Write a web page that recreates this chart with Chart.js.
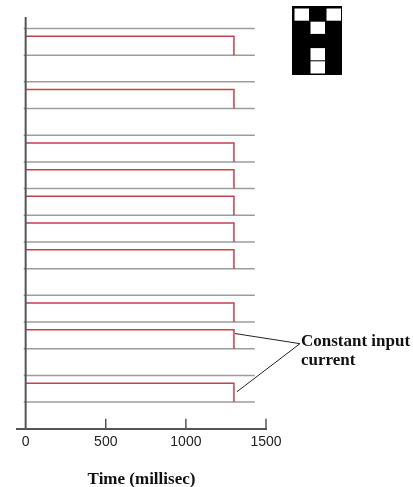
<!DOCTYPE html>
<html>
<head>
<meta charset="utf-8">
<script src="https://cdn.jsdelivr.net/npm/chart.js@4/dist/chart.umd.min.js"></script>
<style>
html,body{margin:0;padding:0;background:#fff;}
#wrap{position:relative;width:413px;height:487px;}
</style>
</head>
<body>
<div id="wrap"><canvas id="c" width="413" height="487"></canvas></div>
<script>
// ---- data ----
const timeTicks = [0, 500, 1000, 1500];
const inputPattern = [0, 1, 0, 1, 0, 1, 1, 1, 1, 1, 0, 1, 1, 0, 1]; // 15 neurons (3x5 image), 1 = input current
const pulseStart = 0;
const pulseEnd = 1300;
const traceStart = -12;
const traceEnd = 1430;
const pulseAmp = 0.71;
const annotationText = ["Constant input", "current"];
const annotationTargets = [ // [neuron index (1-based), time, offset above baseline]
  [13, 1306, 0.57],
  [15, 1319, 0.39]
];
const annotationAnchor = [1712, 3.19];
const xLabel = "Time (millisec)";

const nTraces = inputPattern.length;
const baseOf = k => nTraces + 1 - k; // k = 1..15

const datasets = [];
for (let k = 1; k <= nTraces; k++) {
  const b = baseOf(k);
  datasets.push({
    data: [{x: traceStart, y: b}, {x: traceEnd, y: b}],
    borderColor: '#9c9c9c', borderWidth: 1.5, order: 2
  });
}
inputPattern.forEach((on, i) => {
  if (!on) return;
  const b = baseOf(i + 1);
  datasets.push({
    data: [{x: pulseStart, y: b + pulseAmp}, {x: pulseEnd, y: b + pulseAmp}, {x: pulseEnd, y: b}],
    borderColor: '#c5404c', borderWidth: 1.5, order: 1
  });
});

const extras = {
  id: 'extras',
  afterDatasetsDraw(chart) {
    const ctx = chart.ctx, xs = chart.scales.x, ys = chart.scales.y, a = chart.chartArea;
    ctx.save();
    // y axis line
    ctx.strokeStyle = '#555';
    ctx.lineWidth = 2;
    const x0 = xs.getPixelForValue(0);
    ctx.beginPath(); ctx.moveTo(x0, a.top); ctx.lineTo(x0, a.bottom); ctx.stroke();
    // upward tick marks
    ctx.lineWidth = 1.5;
    timeTicks.forEach(v => {
      if (v === 0) return;
      const px = xs.getPixelForValue(v);
      ctx.beginPath(); ctx.moveTo(px, a.bottom); ctx.lineTo(px, a.bottom - 10); ctx.stroke();
    });
    // annotation
    const ax = xs.getPixelForValue(annotationAnchor[0]);
    const ay = ys.getPixelForValue(annotationAnchor[1]);
    ctx.strokeStyle = '#222';
    ctx.lineWidth = 1;
    annotationTargets.forEach(t => {
      const tx = xs.getPixelForValue(t[1]);
      const ty = ys.getPixelForValue(baseOf(t[0]) + t[2]);
      ctx.beginPath(); ctx.moveTo(tx, ty); ctx.lineTo(ax, ay); ctx.stroke();
    });
    ctx.fillStyle = '#111';
    ctx.font = 'bold 17px "Liberation Serif"';
    ctx.textBaseline = 'middle';
    ctx.textAlign = 'left';
    ctx.fillText(annotationText[0], ax + 1, ay - 2);
    ctx.fillText(annotationText[1], ax + 1, ay + 17);
    // input pattern image (3 x 5)
    const ix = 292, iy = 6, iw = 50, ih = 69;
    ctx.fillStyle = '#000';
    ctx.fillRect(ix, iy, iw, ih);
    const cw = 16, chh = 13.2;
    inputPattern.forEach((on, i) => {
      if (on) return;
      const r = Math.floor(i / 3), c = i % 3;
      ctx.fillStyle = '#fff';
      ctx.fillRect(ix + 2.5 + c * cw, iy + 2.5 + r * chh, cw - 1.5, chh - 1);
    });
    ctx.restore();
  }
};

new Chart(document.getElementById('c'), {
  type: 'line',
  data: {datasets},
  options: {
    responsive: false,
    animation: false,
    events: [],
    layout: {padding: {left: 17, right: 147, top: 17, bottom: 0}},
    elements: {point: {radius: 0}, line: {tension: 0, fill: false}},
    plugins: {legend: {display: false}, tooltip: {enabled: false}},
    scales: {
      x: {
        type: 'linear', min: -54, max: 1500,
        afterBuildTicks: s => { s.ticks = timeTicks.map(v => ({value: v})); },
        grid: {display: false, drawTicks: false},
        border: {display: true, color: '#555', width: 2},
        ticks: {padding: 5, color: '#222', font: {family: '"Liberation Sans"', size: 14}, maxRotation: 0, autoSkip: false,
                callback: v => String(v)},
        title: {display: true, text: xLabel, color: '#111', font: {family: '"Liberation Serif"', size: 17, weight: 'bold'}, padding: {top: 14, bottom: -3}}
      },
      y: {type: 'linear', min: 0, max: 15.43, display: false}
    }
  },
  plugins: [extras]
});
</script>
</body>
</html>
